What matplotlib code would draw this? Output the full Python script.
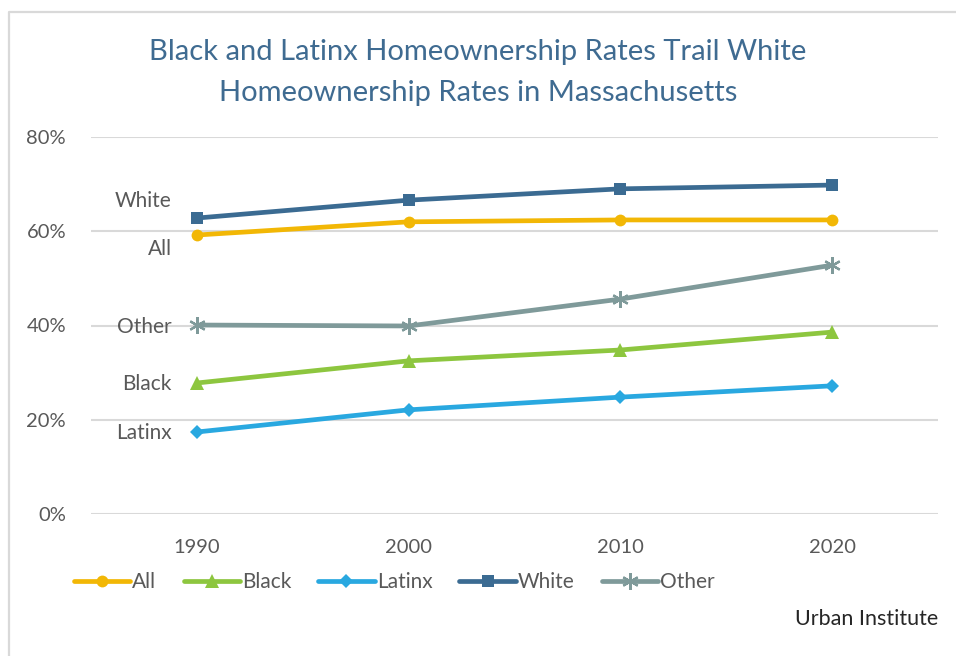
import matplotlib
matplotlib.use("Agg")
import matplotlib.pyplot as plt
from matplotlib.lines import Line2D
from matplotlib.ticker import PercentFormatter

plt.rcParams["font.family"] = ["Lato", "DejaVu Sans"]

years = ["1990", "2000", "2010", "2020"]
all_rate = [0.592, 0.620, 0.624, 0.624]
black_rate = [0.278, 0.325, 0.348, 0.386]
latinx_rate = [0.174, 0.221, 0.248, 0.272]
white_rate = [0.628, 0.666, 0.690, 0.698]
other_rate = [0.401, 0.399, 0.456, 0.528]

GRAY_TXT = "#595959"
TITLE_C = "#3f6b91"

series = [
    # name, values, color, marker, markersize, label offset (points)
    ("All", all_rate, "#f2b705", "o", 8.5, (-18, -10)),
    ("Black", black_rate, "#8dc63f", "^", 9.5, (-18, -1)),
    ("Latinx", latinx_rate, "#29a8e0", "D", 7.5, (-18, -1)),
    ("White", white_rate, "#3b6b92", "s", 8, (-18, 12)),
    ("Other", other_rate, "#7f9a9a", (6, 2, 0), 12, (-18, -1.5)),
]

fig = plt.figure(figsize=(9.56, 6.56), dpi=100)
ax = fig.add_axes([91 / 956, 1 - 514 / 656, (938 - 91) / 956, (514 - 137) / 656])

x = [i + 0.5 for i in range(len(years))]
handles = []
for name, vals, color, marker, ms, off in series:
    mew = 1.6 if name == "Other" else 0
    ln, = ax.plot(x, vals, color=color, lw=3.4, marker=marker, markersize=ms,
                  markeredgewidth=mew, markeredgecolor=color,
                  solid_capstyle="round", zorder=3, label=name)
    handles.append(ln)
    ax.annotate(name, (x[0], vals[0]), xytext=off, textcoords="offset points",
                ha="right", va="center", fontsize=15, color=GRAY_TXT)

ax.set_xlim(0, 4)
ax.set_ylim(0, 0.8)
ax.set_xticks(x)
ax.set_xticklabels(years)
ax.set_yticks([0, 0.2, 0.4, 0.6, 0.8])
ax.yaxis.set_major_formatter(PercentFormatter(1.0, decimals=0))
ax.tick_params(length=0, labelsize=14.5, labelcolor=GRAY_TXT)
ax.tick_params(axis="x", pad=18)
ax.tick_params(axis="y", pad=18)
ax.grid(axis="y", color="#d9d9d9", lw=1.5)
ax.set_axisbelow(True)
for s in ax.spines.values():
    s.set_visible(False)

fig.text(0.5, 1 - 52 / 656, "Black and Latinx Homeownership Rates Trail White",
         ha="center", va="center", fontsize=21, color=TITLE_C)
fig.text(0.5, 1 - 93 / 656, "Homeownership Rates in Massachusetts",
         ha="center", va="center", fontsize=21, color=TITLE_C)

fig.legend(handles=handles, loc="center left",
           bbox_to_anchor=(74 / 956, 1 - 582 / 656), ncol=5, frameon=False,
           borderpad=0, borderaxespad=0, fontsize=15, handlelength=2.7,
           handletextpad=0.1, columnspacing=1.3, labelcolor=GRAY_TXT)

fig.text(938 / 956, 1 - 619 / 656, "Urban Institute", ha="right", va="center",
         fontsize=15.5, color="#262626")

# chart area border (top and left edges)
fig.add_artist(Line2D([8.5 / 956, 8.5 / 956, 1], [0, 1 - 12 / 656, 1 - 12 / 656],
                      transform=fig.transFigure, color="#d9d9d9", lw=1.6))

fig.savefig("out.png", dpi=100, facecolor="white")
